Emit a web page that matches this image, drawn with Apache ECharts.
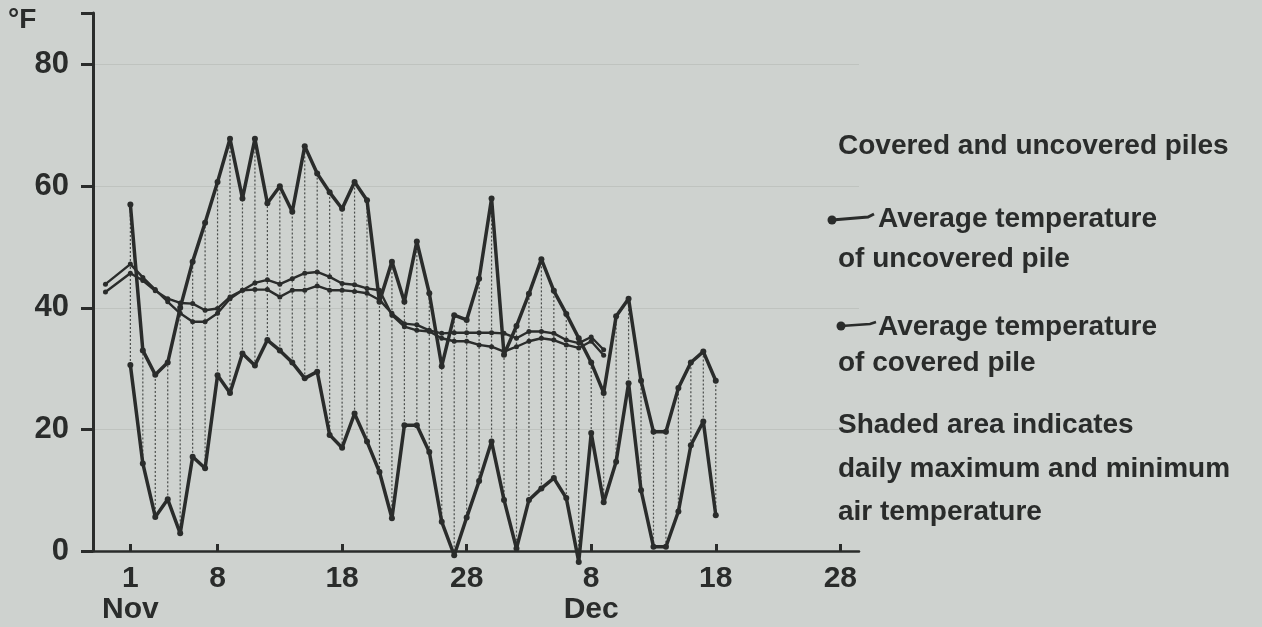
<!DOCTYPE html>
<html>
<head>
<meta charset="utf-8">
<script src="https://cdn.jsdelivr.net/npm/echarts@6/dist/echarts.min.js"></script>
<style>
  html, body { margin: 0; padding: 0; background: #ced2cf; }
  #chart { width: 1262px; height: 627px; }
</style>
</head>
<body>
<div id="chart"></div>
<script>
// Day numbers count from Oct 31 (Nov 1 = 1, Dec 1 = 31, Dec 18 = 48).
const airDays = [1,2,3,4,5,6,7,8,9,10,11,12,13,14,15,16,17,18,19,20,21,22,23,24,25,26,27,28,29,30,
                 31,32,33,34,35,36,37,38,39,40,41,42,43,44,45,46,47,48];
// Daily maximum air temperature, °F
const maxAir = [57,33,29,31,40,47.6,54,60.7,67.8,58,67.8,57.2,60,55.8,66.6,62.1,59,56.3,60.7,57.7,
                41,47.6,41,50.9,42.4,30.4,38.8,38,44.8,58,
                32.3,37,42.3,48,42.8,39,35,31,26,38.6,41.5,28,19.6,19.6,26.8,31,32.8,28];
// Daily minimum air temperature, °F
const minAir = [30.6,14.4,5.6,8.5,2.9,15.5,13.6,28.9,26,32.5,30.5,34.7,33,31,28.4,29.5,19.1,17,22.6,18,
                13,5.4,20.7,20.7,16.3,4.8,-0.7,5.5,11.5,18,
                8.4,0.4,8.4,10.3,12,8.7,-1.8,19.4,8,14.7,27.6,10,0.7,0.7,6.5,17.4,21.3,5.9];

// Pile averages start Oct 30 (day -1) and run to Dec 9 (day 39).
const pileDays = [-1,1,2,3,4,5,6,7,8,9,10,11,12,13,14,15,16,17,18,19,20,
                  21,22,23,24,25,26,27,28,29,30,31,32,33,34,35,36,37,38,39];
const uncoveredAvg = [43.9,47.2,45,43,41,39.1,37.7,37.7,39.1,41.5,42.9,44.1,44.6,43.9,44.8,45.7,45.9,45.1,44,43.8,43.2,
                      42.9,38.8,36.9,36.3,36.1,35,34.5,34.5,33.9,33.6,32.8,33.6,34.5,35,34.7,33.9,33.4,34.5,32.2];
const coveredAvg = [42.6,45.7,44.5,42.8,41.5,40.8,40.7,39.6,39.9,41.8,42.9,43,43,41.8,42.9,42.9,43.6,42.9,42.9,42.7,42.4,
                    41.3,39.1,37.4,37.2,36.3,35.8,35.9,35.9,35.9,35.9,35.8,35,36.1,36.1,35.8,34.7,34.2,35.2,33.1];

// Axis ticks: Nov 1, 8, 18, 28, Dec 8, 18, 28
const dayTicks = [1, 8, 18, 28, 38, 48, 58];
const dayTickLabels = ['1\nNov', '8', '18', '28', '8\nDec', '18', '28'];
const tempTicks = [0, 20, 40, 60, 80];

const legendLines = [
  'Covered and uncovered piles',
  'Average temperature',
  'of uncovered pile',
  'Average temperature',
  'of covered pile',
  'Shaded area indicates',
  'daily maximum and minimum',
  'air temperature'
];

const ink = '#2a2c2b';
const font = '"Liberation Sans", Arial, sans-serif';

const pairs = (xs, ys) => ys.map((v, i) => [xs[i], v]);
const rangeData = airDays.map((d, i) => [d, minAir[i], maxAir[i]]);

const chart = echarts.init(document.getElementById('chart'), null, { renderer: 'canvas' });

const lineSeries = (name, data, width, size) => ({
  name, type: 'line', data, clip: false, z: 3,
  symbol: 'circle', symbolSize: size, showSymbol: true,
  lineStyle: { color: ink, width },
  itemStyle: { color: ink }
});

const legendY = [146, 219, 259, 327, 363, 425, 469, 512];

const option = {
  backgroundColor: '#ced2cf',
  animation: false,
  grid: { left: 93, right: 403, top: 13, bottom: 76 },
  xAxis: {
    type: 'value', min: -2, max: 59.5,
    axisLine: { onZero: false, lineStyle: { color: ink, width: 2.5 } },
    axisTick: { customValues: dayTicks, inside: true, length: 7, lineStyle: { color: ink, width: 3 } },
    axisLabel: {
      customValues: dayTicks,
      formatter: v => dayTickLabels[dayTicks.indexOf(v)] || '',
      color: ink, fontFamily: font, fontWeight: 'bold', fontSize: 30, lineHeight: 31, margin: 12
    },
    splitLine: { show: false }
  },
  yAxis: {
    type: 'value', min: 0, max: 88.5, interval: 20,
    axisLine: { show: true, onZero: false, lineStyle: { color: ink, width: 3 } },
    axisTick: { show: true, length: 12, lineStyle: { color: ink, width: 3 } },
    axisLabel: {
      color: ink, fontFamily: font, fontWeight: 'bold', fontSize: 31, margin: 24,
      formatter: v => (tempTicks.indexOf(v) >= 0 ? String(v) : '')
    },
    splitLine: { show: true, showMaxLine: false, lineStyle: { color: 'rgba(110,120,115,0.16)', width: 1 } }
  },
  series: [
    {
      name: 'Daily air temperature range', type: 'custom', data: rangeData, z: 1,
      encode: { x: 0, y: [1, 2] },
      renderItem: (params, api) => {
        const lo = api.coord([api.value(0), api.value(1)]);
        const hi = api.coord([api.value(0), api.value(2)]);
        return {
          type: 'line',
          shape: { x1: lo[0], y1: lo[1], x2: hi[0], y2: hi[1] },
          style: { stroke: '#4a4d4b', lineWidth: 1.2, lineDash: [2, 2] }
        };
      }
    },
    lineSeries('Average temperature of uncovered pile', pairs(pileDays, uncoveredAvg), 2.4, 5),
    lineSeries('Average temperature of covered pile', pairs(pileDays, coveredAvg), 2.4, 5),
    lineSeries('Daily maximum air temperature', pairs(airDays, maxAir), 3.5, 6),
    lineSeries('Daily minimum air temperature', pairs(airDays, minAir), 3.5, 6)
  ],
  graphic: [
    {
      type: 'text', left: 8, top: 6,
      style: { text: '°F', fill: ink, font: 'bold 28px ' + font }
    },
    ...legendLines.map((t, i) => ({
      type: 'text', x: (i === 1 || i === 3) ? 878 : 838, y: legendY[i],
      style: { text: t, fill: ink, font: 'bold 28px ' + font, textVerticalAlign: 'middle' }
    })),
    // legend keys: dot with a short line
    { type: 'circle', shape: { cx: 832, cy: 220, r: 4.5 }, style: { fill: ink } },
    { type: 'polyline', shape: { points: [[832, 220], [868, 217], [874, 214]] }, style: { stroke: ink, lineWidth: 3, fill: null } },
    { type: 'circle', shape: { cx: 841, cy: 326, r: 4.5 }, style: { fill: ink } },
    { type: 'polyline', shape: { points: [[841, 326], [870, 324], [876, 322]] }, style: { stroke: ink, lineWidth: 2.5, fill: null } }
  ]
};

chart.setOption(option);
</script>
</body>
</html>
